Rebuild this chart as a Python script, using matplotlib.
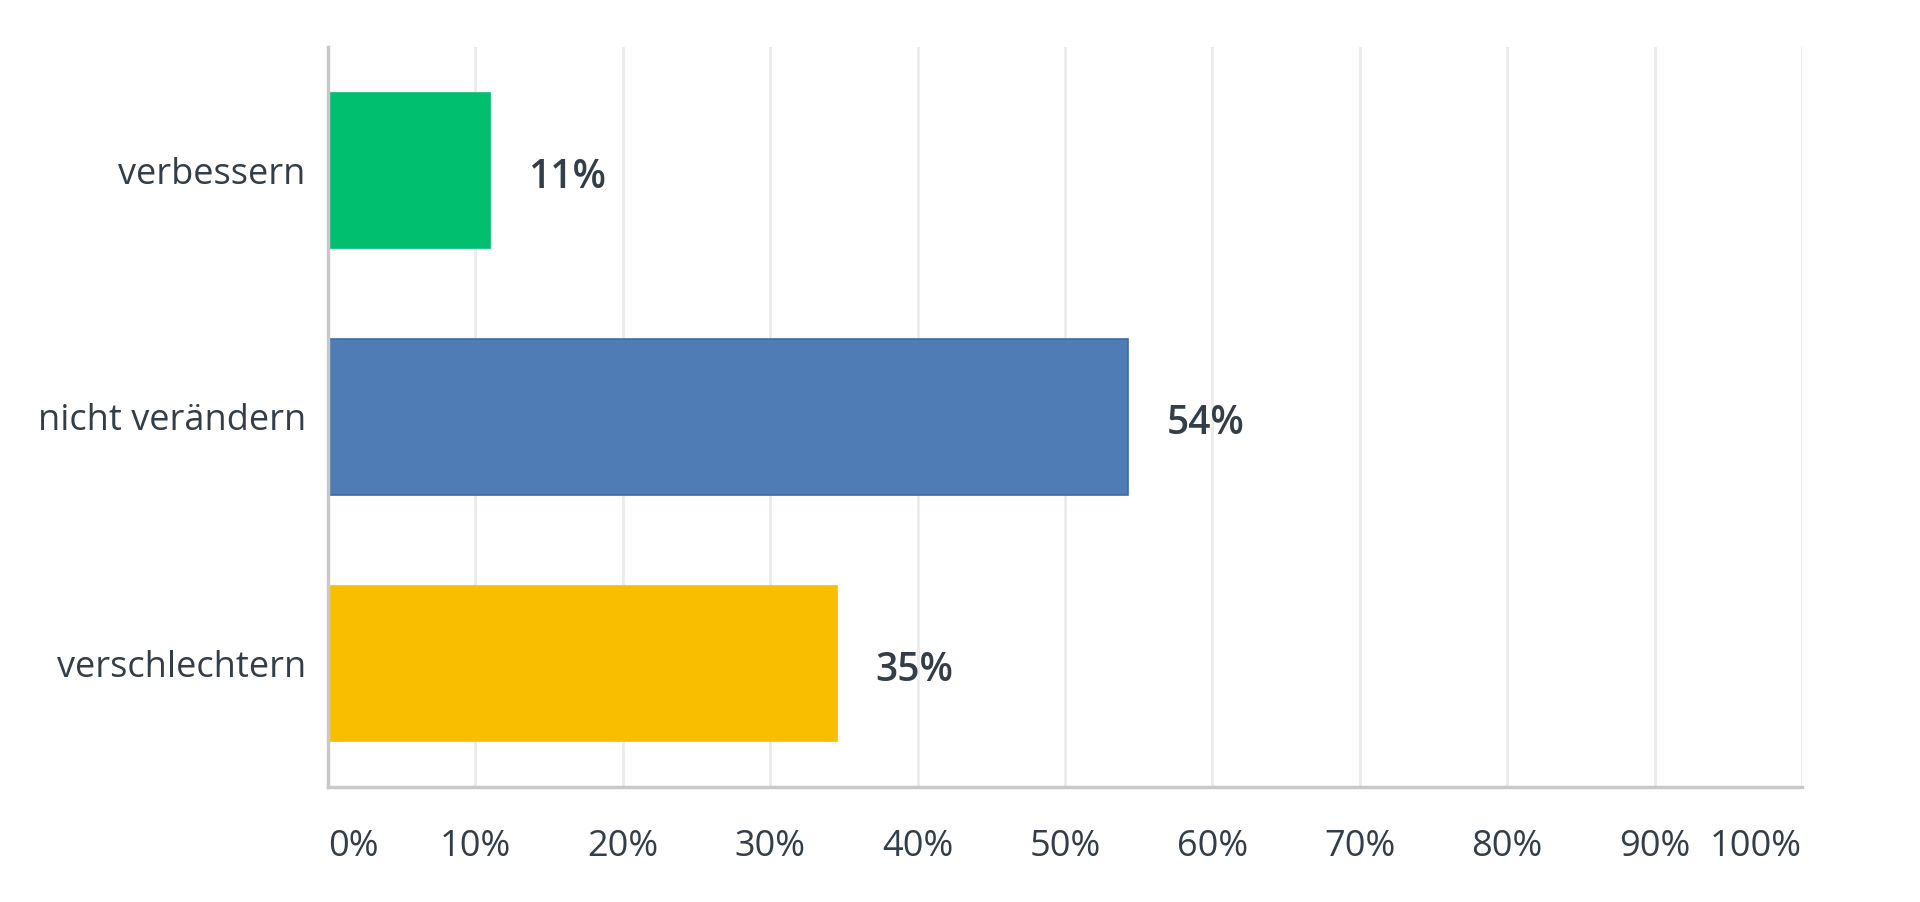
import matplotlib
matplotlib.use("Agg")
import matplotlib.pyplot as plt

categories = ["verbessern", "nicht verändern", "verschlechtern"]
values = [11.0, 54.3, 34.5]
value_labels = ["11%", "54%", "35%"]
bar_colors = ["#00bf6f", "#507cb6", "#f9be00"]
edge_colors = ["#00bf6f", "#3f6aa8", "#f9be00"]
x_ticks = [0, 10, 20, 30, 40, 50, 60, 70, 80, 90, 100]
x_tick_labels = ["0%", "10%", "20%", "30%", "40%", "50%", "60%", "70%", "80%", "90%", "100%"]

plt.rcParams['font.family'] = ['Open Sans', 'DejaVu Sans']
text_color = "#333e48"

fig = plt.figure(figsize=(19.2, 9.02), dpi=100)
ax = fig.add_axes([328/1920, 1 - 787/902, (1802-328)/1920, (787-47)/902])

ypos = list(range(len(categories)))
ax.barh(ypos, values, height=0.63, color=bar_colors, edgecolor=edge_colors, linewidth=1.2, zorder=3)

for y, v, lab in zip(ypos, values, value_labels):
    ax.text(v + 2.6, y + 0.03, lab, va="center", ha="left", fontsize=28, fontweight="semibold",
            color=text_color, zorder=4)

ax.set_xlim(0, 100)
ax.set_ylim(len(categories) - 0.5, -0.5)

ax.set_yticks(ypos)
ax.set_yticklabels(categories, fontsize=26, color=text_color)
ax.set_xticks(x_ticks)
ax.set_xticklabels(x_tick_labels, fontsize=26, color=text_color)
tl = ax.get_xticklabels()
tl[0].set_ha("left")
tl[-1].set_ha("right")

ax.tick_params(axis="both", length=0)
ax.tick_params(axis="y", pad=16)
ax.tick_params(axis="x", pad=30)

ax.grid(axis="x", color="#ebebeb", linewidth=2, zorder=0)
ax.grid(axis="y", visible=False)
for s in ["top", "right"]:
    ax.spines[s].set_visible(False)
ax.spines["left"].set_color("#c8c8c8")
ax.spines["left"].set_linewidth(2.5)
ax.spines["bottom"].set_color("#c8c8c8")
ax.spines["bottom"].set_linewidth(2.5)
ax.spines["left"].set_zorder(5)

fig.savefig("out.png", dpi=100, facecolor="white")
